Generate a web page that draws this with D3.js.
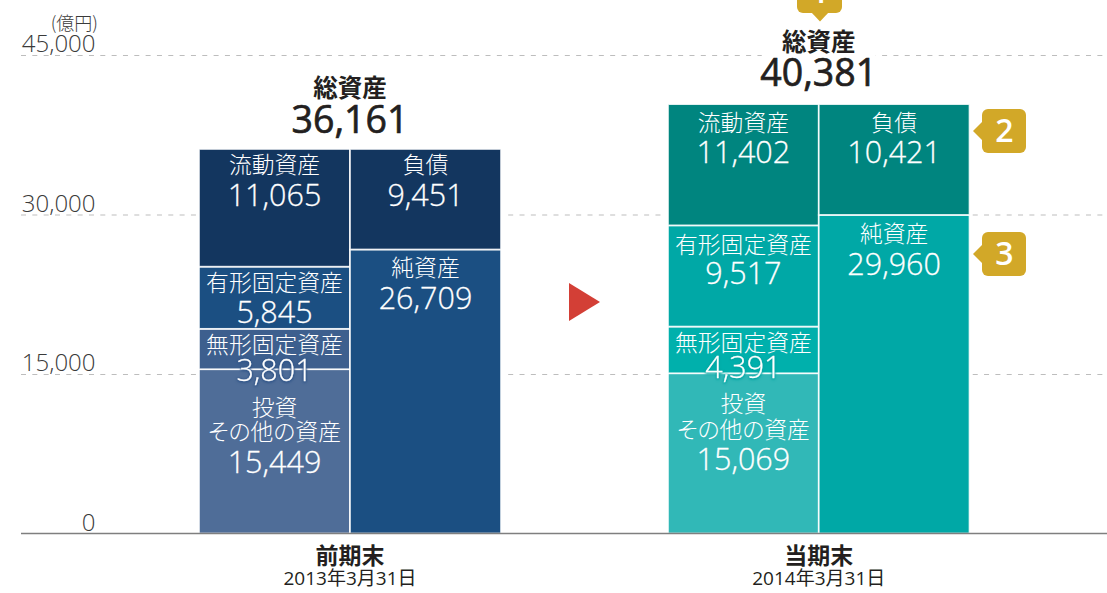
<!DOCTYPE html>
<html lang="ja">
<head>
<meta charset="utf-8">
<title>総資産</title>
<script src="https://cdn.jsdelivr.net/npm/d3@7"></script>
<style>
  html, body { margin: 0; background: #fff; overflow: hidden; }
  svg { display: block; }
  text { font-family: "Open Sans", "Noto Sans CJK JP", sans-serif; }
  .cjk { font-family: "Noto Sans CJK JP", sans-serif; font-feature-settings: "palt"; }
</style>
</head>
<body>
<svg id="chart" width="1107" height="593"></svg>
<script>
// Balance sheet figures, in 億円
const periods = ["前期末", "当期末"];
const periodDates = ["2013年3月31日", "2014年3月31日"];
const totals = [36161, 40381];
const totalLabel = "総資産";
const assetNames = [["投資", "その他の資産"], ["無形固定資産"], ["有形固定資産"], ["流動資産"]];
const assetValues = [[15449, 3801, 5845, 11065], [15069, 4391, 9517, 11402]];
const claimNames = ["純資産", "負債"];
const claimValues = [[26709, 9451], [29960, 10421]];
const yTicks = [0, 15000, 30000, 45000];
const unitLabel = "(億円)";
const badgeNumbers = ["1", "2", "3"];

// Palette by period
const assetColors = [
  ["#4f6d98", "#3d5f8e", "#1b4f82", "#13365f"],
  ["#31b8b7", "#00b0ac", "#00a8a6", "#00857f"]
];
const claimColors = [
  ["#1b4f82", "#13365f"],
  ["#00a8a6", "#00857f"]
];
const haloColors = ["#2f5488", "#00a5a2"];

const svg = d3.select("#chart");
const ink = "#231f20";
const y = d3.scaleLinear().domain([0, 45000]).range([533.5, 55]);

// Horizontal layout of each period's pair of stacks
const stackFrame = d3.scaleOrdinal().domain(periods).range([
  { left: 199, colW: 151, gapL: 197, gapR: 507, totalDy: [-52, -16] },
  { left: 668, colW: 150.75, gapL: 662, gapR: 972, totalDy: [-53, -18] }
]);

// Value axis with dashed grid lines running across the chart
const axis = d3.axisLeft(y).tickValues(yTicks).tickFormat(d3.format(",")).tickSize(-1086).tickPadding(0);
const axisG = svg.append("g").attr("transform", "translate(21,0)").call(axis);
axisG.select(".domain").remove();
axisG.selectAll(".tick line")
  .attr("stroke", d => d === 0 ? "none" : "#bdbdbd")
  .attr("stroke-width", 1)
  .attr("stroke-dasharray", "5 6.33");
axisG.selectAll(".tick text")
  .attr("x", 74.5).attr("y", -3.5).attr("dy", 0)
  .attr("text-anchor", "end")
  .attr("font-size", 24).attr("font-weight", 300).attr("fill", "#3a3a3a");

svg.append("text").attr("class", "cjk").attr("x", 98).attr("y", 30)
  .attr("text-anchor", "end").attr("font-size", 18).attr("font-weight", 300).attr("fill", "#3a3a3a")
  .text(unitLabel);

// Cell label placement: offsets below each cell's top edge, per period
const assetLabelLayout = [
  [{ names: [47, 71], value: 104 }, { names: [24], value: 52 }, { names: [24], value: 56 }, { names: [24], value: 57 }],
  [{ names: [39, 65], value: 97 }, { names: [24], value: 51 }, { names: [28], value: 59 }, { names: [27], value: 59 }]
];
const claimLabelLayout = [
  [{ names: [27], value: 60 }, { names: [24], value: 57 }],
  [{ names: [27], value: 60 }, { names: [27], value: 59 }]
];

function drawCell(g, x0, w, value, base, color, names, layout, halo) {
  const top = y(base + value), bottom = y(base), cx = x0 + w / 2;
  g.append("rect").attr("x", x0).attr("y", top).attr("width", w).attr("height", bottom - top)
    .attr("fill", color).attr("stroke", "#fff").attr("stroke-opacity", 0.88).attr("stroke-width", 1.7);
  const labels = g.append("g").attr("fill", "#fff").attr("text-anchor", "middle");
  names.forEach((n, i) => {
    labels.append("text").attr("class", "cjk").attr("x", cx).attr("y", top + layout.names[i])
      .attr("font-size", 22.8).attr("font-weight", 300).text(n);
  });
  const num = labels.append("text").attr("x", cx).attr("y", top + layout.value)
    .attr("font-size", 30.5).attr("font-weight", 300)
    .attr("stroke", "#fff").attr("stroke-width", 0.3)
    .text(d3.format(",")(value));
  // Short cells: the figure straddles the border below, so it gets a soft halo
  if (halo) {
    num.style("filter", `drop-shadow(0 0 1px ${halo}) drop-shadow(0 1px 1px ${halo})`);
  }
}

periods.forEach((p, pi) => {
  const f = stackFrame(p), center = f.left + f.colW;
  const g = svg.append("g");

  // Clear the grid around the bars and the total label
  g.append("rect").attr("x", f.gapL).attr("y", y(totals[pi]) - 5)
    .attr("width", f.gapR - f.gapL).attr("height", 533 - y(totals[pi]) + 5).attr("fill", "#fff");
  g.append("rect").attr("x", center - 57).attr("y", y(totals[pi]) - 70)
    .attr("width", 114).attr("height", 70).attr("fill", "#fff");

  let base = 0;
  assetValues[pi].forEach((v, i) => {
    drawCell(g, f.left, f.colW, v, base, assetColors[pi][i], assetNames[i], assetLabelLayout[pi][i], i === 1 ? haloColors[pi] : null);
    base += v;
  });
  base = 0;
  claimValues[pi].forEach((v, i) => {
    drawCell(g, f.left + f.colW, f.colW, v, base, claimColors[pi][i], [claimNames[i]], claimLabelLayout[pi][i], null);
    base += v;
  });

  // Total heading above the stacks
  g.append("text").attr("class", "cjk").attr("x", center).attr("y", y(totals[pi]) + f.totalDy[0])
    .attr("text-anchor", "middle").attr("font-size", 24.5).attr("font-weight", 700).attr("fill", ink)
    .text(totalLabel);
  g.append("text").attr("x", center).attr("y", y(totals[pi]) + f.totalDy[1])
    .attr("text-anchor", "middle").attr("font-size", 37.5).attr("font-weight", 400)
    .attr("fill", ink).attr("stroke", ink).attr("stroke-width", 0.7)
    .text(d3.format(",")(totals[pi]));

  // Period captions below the baseline
  g.append("text").attr("class", "cjk").attr("x", center).attr("y", 564)
    .attr("text-anchor", "middle").attr("font-size", 23).attr("font-weight", 700).attr("fill", ink)
    .text(p);
  g.append("text").attr("x", center).attr("y", 585)
    .attr("text-anchor", "middle").attr("font-size", 19).attr("font-weight", 400).attr("fill", ink)
    .text(periodDates[pi]);
});

// Baseline sits over the bars
svg.append("line").attr("x1", 21).attr("x2", 1107).attr("y1", y(0)).attr("y2", y(0))
  .attr("stroke", "#7f7f7f").attr("stroke-width", 1.6);

// Arrow between the periods
svg.append("path").attr("d", "M569,283L600,302L569,321Z").attr("fill", "#d33f36");

// Numbered callouts
const gold = "#d2a828";
function badge(bx, by, w, h, pointer, label, labelY) {
  const g = svg.append("g");
  g.append("rect").attr("x", bx).attr("y", by).attr("width", w).attr("height", h).attr("rx", 6).attr("fill", gold);
  g.append("path").attr("d", pointer).attr("fill", gold);
  g.append("text").attr("x", bx + w / 2 + 0.5).attr("y", labelY).attr("text-anchor", "middle")
    .attr("font-size", 32).attr("font-weight", 600).attr("fill", "#fff").text(label);
}
badge(797, -31, 45, 44, "M811,12L829,12L820,21.5Z", badgeNumbers[0], 3);
badge(982, 109, 44, 44, "M983,121L983,141L973,131Z", badgeNumbers[1], 142);
badge(982, 232, 44, 44, "M983,244L983,264L973,254Z", badgeNumbers[2], 265);
</script>
</body>
</html>
